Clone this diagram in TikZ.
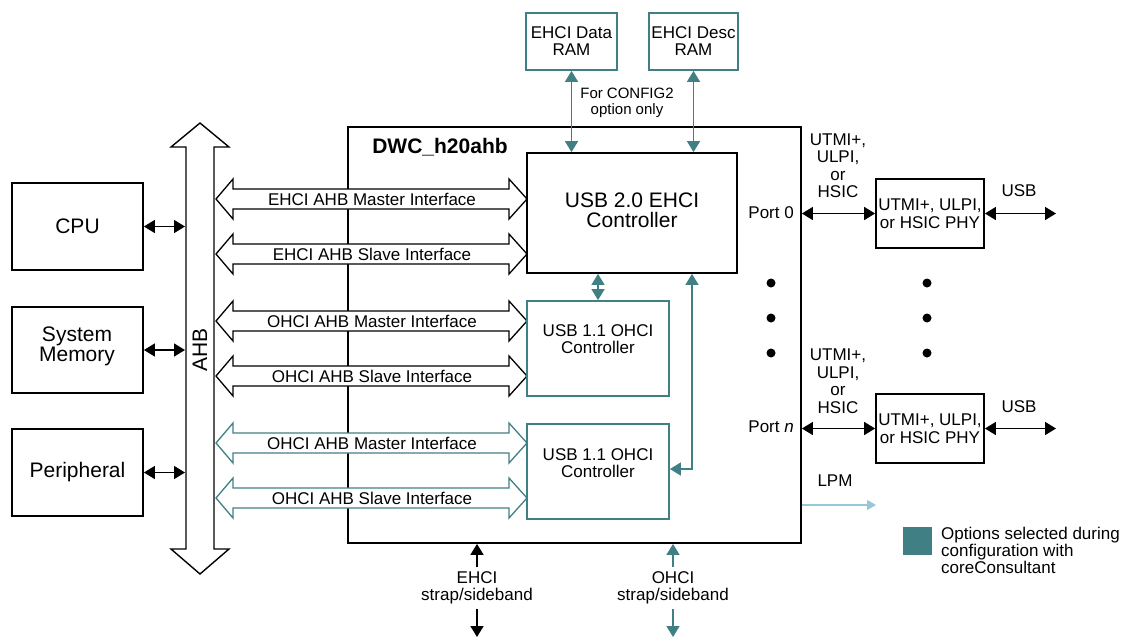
\documentclass[tikz,border=0pt]{standalone}
\usepackage{fontspec}
\setmainfont{Liberation Sans}
\usetikzlibrary{arrows.meta}
\definecolor{tealc}{RGB}{64,128,132}
\definecolor{lpmblue}{RGB}{150,200,215}
\newcommand\ifacearrow[4]{%
  \draw[#2, line width=1.3pt, fill=white] (216,#1) -- (233,#1-20) -- (233,#1-10) -- (509,#1-10) -- (509,#1-20) -- (527,#1) -- (509,#1+20) -- (509,#1+10) -- (233,#1+10) -- (233,#1+20) -- cycle;
  \node[lbl] (#4) at (372,#1) {#3};%
}
\begin{document}
\begin{tikzpicture}[x=1pt,y=-1pt,
  box/.style={draw, line width=1.8pt, inner sep=0pt, align=center},
  tbox/.style={box, draw=tealc},
  lbl/.style={inner sep=0pt, align=center, font=\fontsize{17}{17.5}\selectfont},
  big/.style={font=\fontsize{21}{20}\selectfont},
  conn/.style={line width=1.6pt, {Triangle[length=11pt,width=13pt]}-{Triangle[length=11pt,width=13pt]}},
  tconn/.style={conn, draw=tealc},
  oneway/.style={line width=1.6pt, -{Triangle[length=11pt,width=13pt]}},
  dotn/.style={circle, fill=black, inner sep=0pt, minimum size=9pt}]
\useasboundingbox (0,0) rectangle (1126,638);

% main block
\node[box, minimum width=453pt, minimum height=416pt] (dwc) at (574.5,335) {};
\node[inner sep=0pt, font=\fontsize{21}{21}\selectfont\bfseries] (dwclbl) at (440,147) {DWC\_h20ahb};

% left boxes
\node[box, big, minimum width=131pt, minimum height=87pt] (cpu) at (77.5,226.5) {CPU};
\node[box, minimum width=131pt, minimum height=86pt] (sysmem) at (77.5,350) {};
\node[inner sep=0pt, align=center, big] (sysmemlbl) at (77,346) {System\\Memory};
\node[box, big, minimum width=131pt, minimum height=87pt] (periph) at (77.5,472.5) {Peripheral};

% AHB bus
\draw[line width=1.4pt, fill=white] (200,123) -- (171,147) -- (186,147) -- (186,549) -- (171,549) -- (200,574) -- (229,549) -- (214,549) -- (214,147) -- (229,147) -- cycle;
\node[inner sep=0pt, big, rotate=90] (ahb) at (200,350) {AHB};
\coordinate (ahbL) at (185,0);
\draw[conn] (cpu.east) -- (cpu.east -| ahbL);
\draw[conn] (sysmem.east) -- (sysmem.east -| ahbL);
\draw[conn] (periph.east) -- (periph.east -| ahbL);

% interface arrows
\ifacearrow{199}{black}{EHCI AHB Master Interface}{ifa}
\ifacearrow{254}{black}{EHCI AHB Slave Interface}{ifb}
\ifacearrow{321}{black}{OHCI AHB Master Interface}{ifc}
\ifacearrow{376}{black}{OHCI AHB Slave Interface}{ifd}
\ifacearrow{443}{tealc}{OHCI AHB Master Interface}{ife}
\ifacearrow{498}{tealc}{OHCI AHB Slave Interface}{iff}

% controllers
\node[box, minimum width=210pt, minimum height=120pt] (ehci) at (632,213) {};
\node[inner sep=0pt, align=center, big] (ehcilbl) at (632,210) {USB 2.0 EHCI\\Controller};
\node[tbox, minimum width=142pt, minimum height=95pt] (ohcia) at (598,348.5) {};
\node[lbl] (ohcialbl) at (598,339) {USB 1.1 OHCI\\Controller};
\node[tbox, minimum width=142pt, minimum height=95pt] (ohcib) at (598,471.5) {};
\node[lbl] (ohciblbl) at (598,463) {USB 1.1 OHCI\\Controller};

% RAMs
\node[tbox, minimum width=91pt, minimum height=57pt, font=\fontsize{17}{17}\selectfont] (dataram) at (571.5,41.5) {EHCI Data\\RAM};
\node[tbox, minimum width=89pt, minimum height=57pt, font=\fontsize{17}{17}\selectfont] (descram) at (693.5,41.5) {EHCI Desc\\RAM};
\node[inner sep=0pt, align=center, font=\fontsize{15}{16}\selectfont] (cfg) at (627,103) {For CONFIG2\\option only};
\draw[tconn] (dataram.south) -- (dataram.south |- ehci.north);
\draw[tconn] (descram.south) -- (descram.south |- ehci.north);

% internal connections
\draw[tconn] (ohcia.north) -- (ohcia.north |- ehci.south);
\coordinate (bend) at (692,469);
\draw[tconn] (bend |- ehci.south) -- (bend) -- (bend -| ohcib.east);

% ports
\node[lbl, anchor=east] (port0) at (794,213) {Port 0};
\node[lbl, anchor=east] (portn) at (794,427) {Port \textit{n}};
\node[box, lbl, draw, line width=1.8pt, minimum width=108pt, minimum height=69pt] (phy0) at (930,213.5) {UTMI+, ULPI,\\or HSIC PHY};
\node[box, lbl, draw, line width=1.8pt, minimum width=108pt, minimum height=69pt] (phyn) at (930,428.5) {UTMI+, ULPI,\\or HSIC PHY};
\node[lbl] (if0) at (838,165.5) {UTMI+,\\ULPI,\\or\\HSIC};
\node[lbl] (ifn) at (838,381) {UTMI+,\\ULPI,\\or\\HSIC};
\draw[conn] (dwc.east |- phy0.west) -- (phy0.west);
\draw[conn] (dwc.east |- phyn.west) -- (phyn.west);
\coordinate (usb0end) at (1056,213.5);
\coordinate (usbnend) at (1056,428.5);
\draw[conn] (phy0.east) -- (usb0end);
\draw[conn] (phyn.east) -- (usbnend);
\node[lbl] (usb0) at (1019,191) {USB};
\node[lbl] (usbn) at (1019,407) {USB};

% dots
\node[dotn] (da) at (771,283) {};
\node[dotn] (db) at (771,318) {};
\node[dotn] (dc) at (771,353) {};
\node[dotn] (dd) at (927,283) {};
\node[dotn] (de) at (927,318) {};
\node[dotn] (df) at (927,353) {};

% LPM
\node[lbl] (lpm) at (835,481) {LPM};
\coordinate (lpmend) at (876,505);
\draw[lpmblue, line width=1.3pt, -{Triangle[length=9pt,width=10pt]}] (dwc.east |- lpmend) -- (lpmend);

% strap/sideband
\node[lbl, inner sep=4pt] (ehcistrap) at (477,588) {EHCI\\strap/sideband};
\node[lbl, inner sep=4pt] (ohcistrap) at (673,588) {OHCI\\strap/sideband};
\coordinate (ehcibot) at (477,637);
\coordinate (ohcibot) at (673,637);
\draw[oneway] (ehcistrap.north) -- (ehcistrap.north |- dwc.south);
\draw[oneway] (ehcistrap.south) -- (ehcibot);
\draw[oneway, tealc] (ohcistrap.north) -- (ohcistrap.north |- dwc.south);
\draw[oneway, tealc] (ohcistrap.south) -- (ohcibot);

% legend
\node[fill=tealc, inner sep=0pt, minimum width=29pt, minimum height=28pt] (legsq) at (917.5,541) {};
\node[lbl, align=left, anchor=west, font=\fontsize{17}{17}\selectfont] (legtxt) at (941,550) {Options selected during\\configuration with\\coreConsultant};
\end{tikzpicture}
\end{document}
